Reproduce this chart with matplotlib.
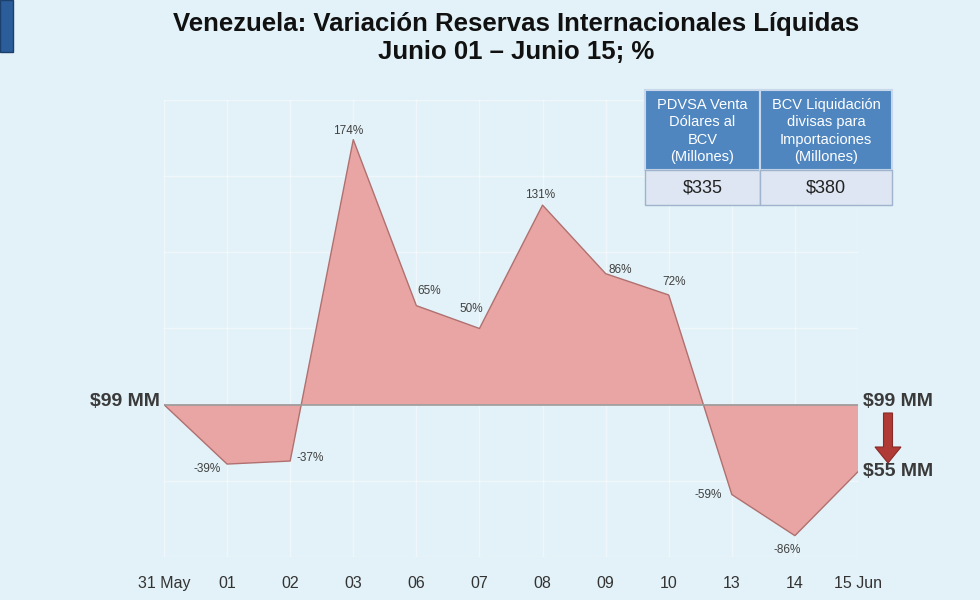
import numpy as np
import matplotlib.pyplot as plt
from matplotlib.patches import Rectangle, FancyArrow

plt.rcParams['font.family'] = ['Liberation Sans', 'DejaVu Sans']

# datos
fechas = ["31 May", "01", "02", "03", "06", "07", "08", "09", "10", "13", "14", "15 Jun"]
variacion = [0, -39, -37, 174, 65, 50, 131, 86, 72, -59, -86, -44]
etiquetas = ["", "-39%", "-37%", "174%", "65%", "50%", "131%", "86%", "72%", "-59%", "-86%", ""]
# desplazamiento de cada etiqueta (pixeles)
offsets = [(0, 0), (-20, -5), (20, 3), (-5, 9), (13, 15), (-8, 20), (-2, 10),
           (15, 4), (5, 13), (-24, 0), (-8, -14), (0, 0)]

tabla_cols = ["PDVSA Venta\nDólares al\nBCV\n(Millones)",
              "BCV Liquidación\ndivisas para\nImportaciones\n(Millones)"]
tabla_vals = ["$335", "$380"]

bg = "#e3f2f8"
fig = plt.figure(figsize=(9.8, 6), dpi=100, facecolor=bg)
ax = fig.add_axes([164 / 980, 43 / 600, 694 / 980, 457 / 600])
ax.set_facecolor(bg)

x = np.arange(len(fechas))
y = np.array(variacion)
ax.fill_between(x, 0, y, color="#e8a5a3", edgecolor="none", zorder=2)
ax.plot(x, y, color="#b07070", lw=1, zorder=3)
ax.axhline(0, color="#9a9a9a", lw=1.2, zorder=4)

for i, lab in enumerate(etiquetas):
    if lab:
        ax.annotate(lab, (x[i], y[i]), xytext=offsets[i], textcoords="offset pixels",
                    ha="center", va="center", fontsize=8.5, color="#404040",
                    family=["Liberation Sans Narrow", "Liberation Sans"])

ax.set_xlim(0, len(fechas) - 1)
ax.set_ylim(-100, 200)
ax.set_xticks(x)
ax.set_xticklabels(fechas, fontsize=11.5, color="#333333",
                   family=["Liberation Sans Narrow", "Liberation Sans"])
ax.set_yticks([-100, -50, 0, 50, 100, 150, 200])
ax.set_yticklabels([])
ax.tick_params(length=0, pad=14)
ax.grid(True, color="white", lw=1, alpha=0.45, zorder=0)
for s in ax.spines.values():
    s.set_visible(False)

fig.text(0.527, 0.96, "Venezuela: Variación Reservas Internacionales Líquidas",
         ha="center", va="center", fontsize=18.5, fontweight="bold", color="#111111")
fig.text(0.527, 0.913, "Junio 01 – Junio 15; %",
         ha="center", va="center", fontsize=18.5, fontweight="bold", color="#111111")

# recuadro azul esquina
fig.patches.append(Rectangle((0, 1 - 52 / 600), 13 / 980, 52 / 600, transform=fig.transFigure,
                             facecolor="#2a5d9a", edgecolor="#1c3f6b", lw=1))

# etiquetas laterales
fig.text(160 / 980, 1 - 402 / 600, "$99 MM", ha="right", va="center",
         fontsize=14, fontweight="bold", color="#3a3a3a")
fig.text(898 / 980, 1 - 401 / 600, "$99 MM", ha="center", va="center",
         fontsize=14, fontweight="bold", color="#3a3a3a")
fig.text(898 / 980, 1 - 472 / 600, "$55 MM", ha="center", va="center",
         fontsize=14, fontweight="bold", color="#3a3a3a")
fig.patches.append(FancyArrow(888 / 980, 1 - 413 / 600, 0, -50 / 600, width=9 / 980,
                              head_width=26 / 980, head_length=16 / 600,
                              length_includes_head=True, transform=fig.transFigure,
                              facecolor="#b03a36", edgecolor="#8a2a28", lw=0.8))

# tabla
x0 = [645, 760]
w = [115, 132]
for j in range(2):
    fig.patches.append(Rectangle((x0[j] / 980, 1 - 170 / 600), w[j] / 980, 80 / 600,
                                 transform=fig.transFigure, facecolor="#4f86c0",
                                 edgecolor="#c8d8ea", lw=1.5))
    fig.patches.append(Rectangle((x0[j] / 980, 1 - 205 / 600), w[j] / 980, 35 / 600,
                                 transform=fig.transFigure, facecolor="#dde6f2",
                                 edgecolor="#9fb3cc", lw=1))
    fig.text((x0[j] + w[j] / 2) / 980, 1 - 131 / 600, tabla_cols[j], ha="center", va="center",
             fontsize=10.5, color="white", linespacing=1.32)
    fig.text((x0[j] + w[j] / 2) / 980, 1 - 188 / 600, tabla_vals[j], ha="center", va="center",
             fontsize=13, color="#222222")

fig.savefig("out.png", dpi=100, facecolor=bg)
